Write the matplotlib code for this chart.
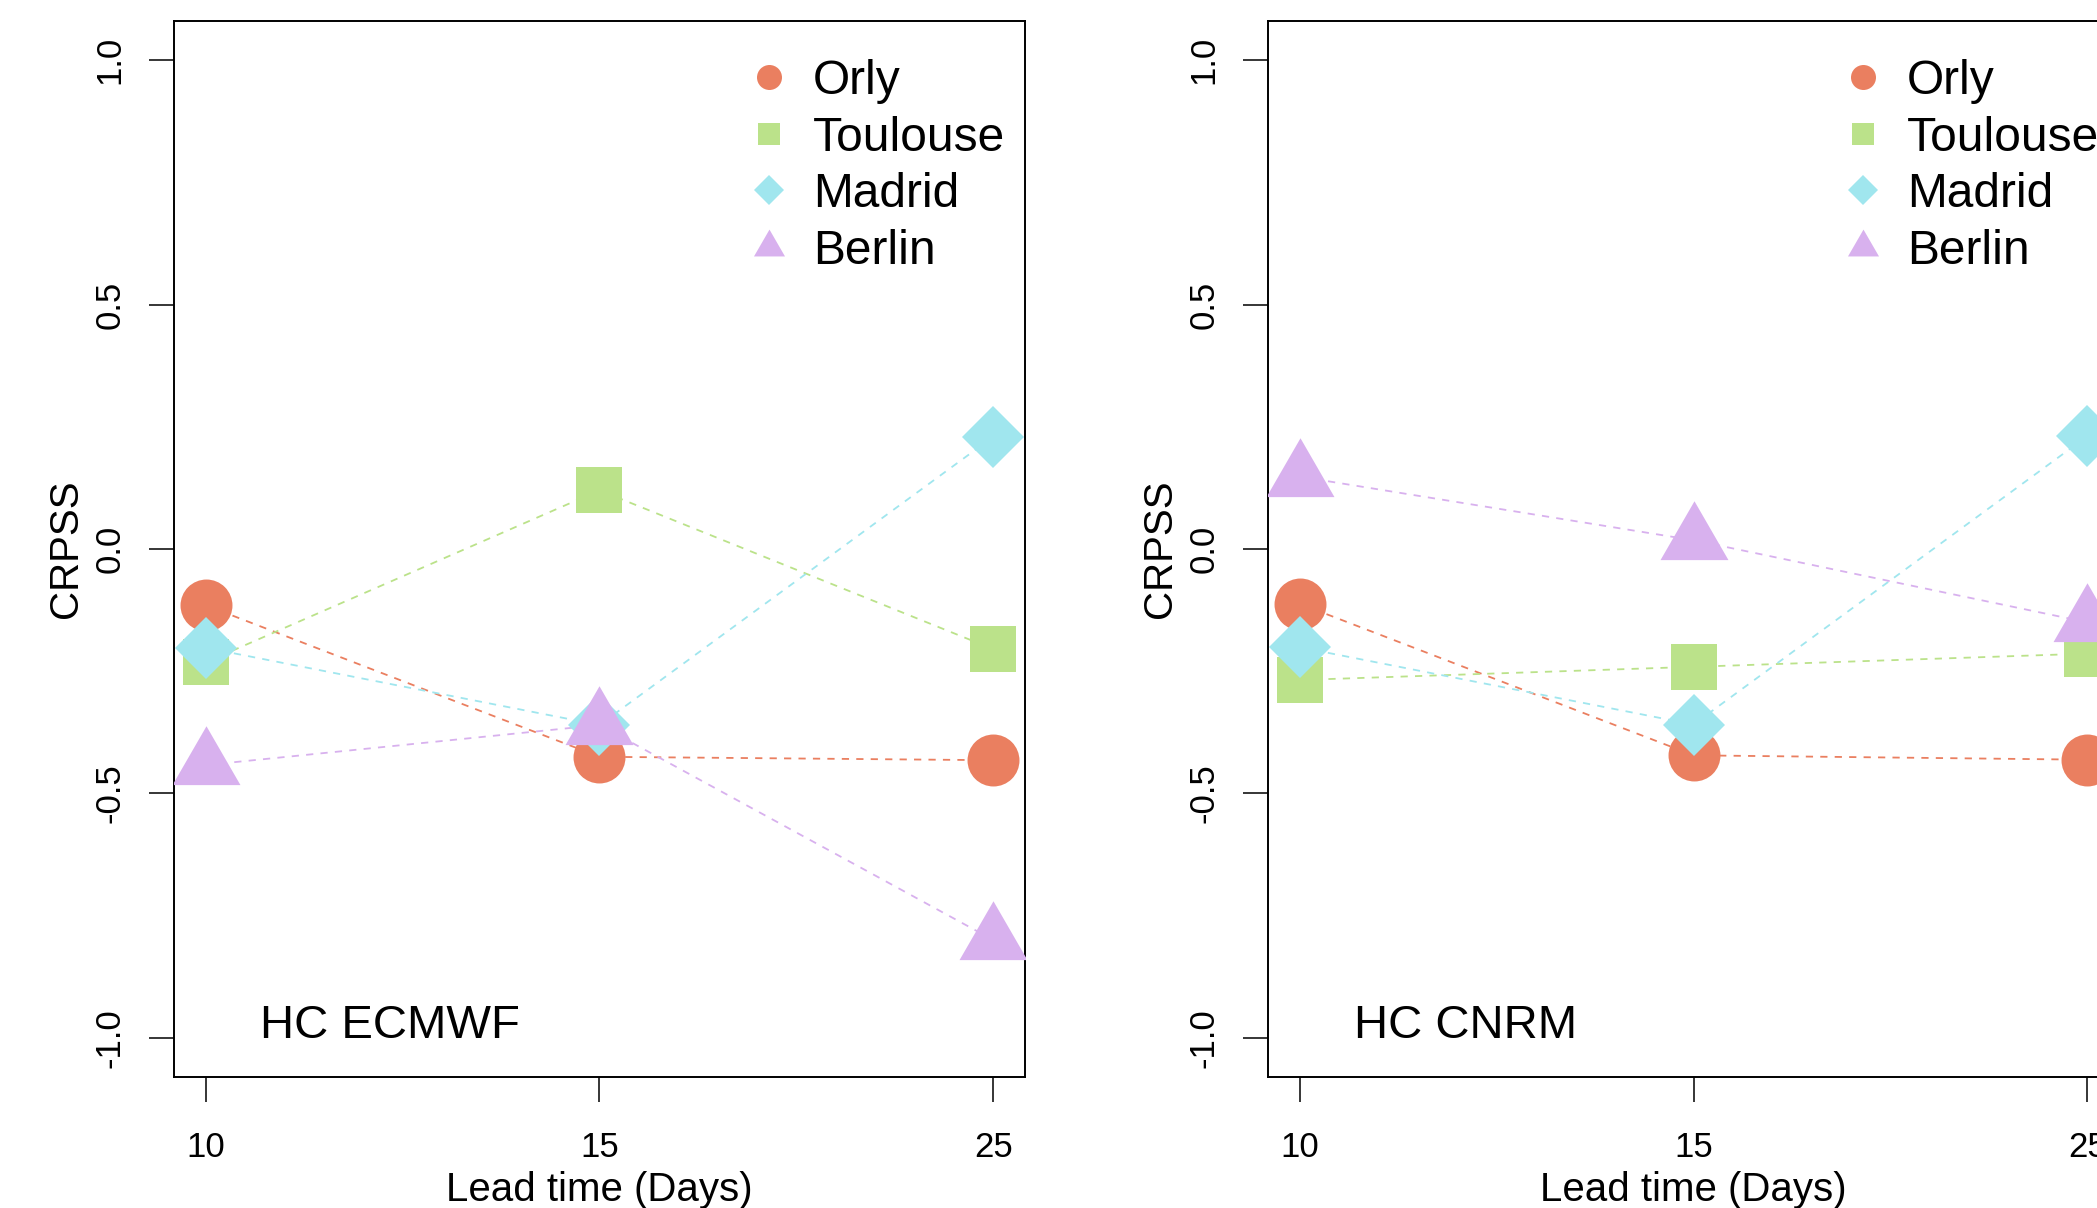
import numpy as np
import matplotlib
matplotlib.use("Agg")
import matplotlib.pyplot as plt
from matplotlib.path import Path
from matplotlib.lines import Line2D

plt.rcParams["font.family"] = ["Liberation Sans", "DejaVu Sans"]

# ===========================
# Datos (CRPSS por estación)
# ===========================
lead_times = ["10", "15", "25"]
stations = ["Orly", "Toulouse", "Madrid", "Berlin"]

ecmwf_orly = [-0.115, -0.425, -0.432]
ecmwf_toulouse = [-0.232, 0.120, -0.205]
ecmwf_madrid = [-0.202, -0.360, 0.230]
ecmwf_berlin = [-0.442, -0.360, -0.800]

cnrm_orly = [-0.112, -0.422, -0.431]
cnrm_toulouse = [-0.268, -0.241, -0.214]
cnrm_madrid = [-0.201, -0.359, 0.231]
cnrm_berlin = [0.148, 0.018, -0.150]

panel_titles = ["HC ECMWF", "HC CNRM"]

colors = ["#EA7F60", "#BBE28A", "#A0E6EE", "#D8B1EE"]

# triángulo equilátero centrado como en R (pch 17)
tri = Path([(0, 1), (-0.866, -0.5), (0.866, -0.5), (0, 1)],
           [Path.MOVETO, Path.LINETO, Path.LINETO, Path.CLOSEPOLY])
markers = ["o", "s", "D", tri]
msizes = [37.4, 32.6, 31.6, 56.5]
leg_sizes = [18, 15.6, 14.9, 25.8]

fig = plt.figure(figsize=(20.97, 12.08), dpi=100)
W, H = 2097, 1208
axes = [
    fig.add_axes([174 / W, 131 / H, 851 / W, 1056 / H]),
    fig.add_axes([1268 / W, 131 / H, 851 / W, 1056 / H]),
]

panels = [
    [ecmwf_orly, ecmwf_toulouse, ecmwf_madrid, ecmwf_berlin],
    [cnrm_orly, cnrm_toulouse, cnrm_madrid, cnrm_berlin],
]

x = np.arange(1, len(lead_times) + 1)

for ax, series, title in zip(axes, panels, panel_titles):
    for vals, c in zip(series, colors):
        ax.plot(x, vals, linestyle=(0, (4, 4)), color=c, lw=1.3, zorder=2)
    for vals, c, m, ms in zip(series, colors, markers, msizes):
        ax.plot(x, vals, linestyle="none", marker=m, ms=ms, color=c,
                markeredgewidth=0, zorder=3)

    ax.set_xlim(0.92, 3.08)
    ax.set_ylim(-1.08, 1.08)
    ax.set_xticks(x)
    ax.set_xticklabels(lead_times)
    ax.set_yticks([-1.0, -0.5, 0.0, 0.5, 1.0])
    ax.set_yticklabels(["-1.0", "-0.5", "0.0", "0.5", "1.0"],
                       rotation=90, va="center")
    ax.tick_params(axis="both", direction="out", length=18, width=1.1,
                   labelsize=25, color="black")
    ax.tick_params(axis="x", pad=21)
    ax.tick_params(axis="y", pad=16)
    for sp in ax.spines.values():
        sp.set_linewidth(1.4)

    ax.set_xlabel("Lead time (Days)", fontsize=29, va="baseline")
    ax.xaxis.set_label_coords(0.5, -0.1174)
    ax.set_ylabel("CRPSS", fontsize=29, va="baseline")
    ax.yaxis.set_label_coords(-0.114, 0.5)

    ax.text(0.101, 0.037, title, transform=ax.transAxes, fontsize=34,
            va="baseline", ha="left")

    handles = [Line2D([], [], linestyle="none", marker=m, ms=s, color=c,
                      markeredgewidth=0)
               for m, s, c in zip(markers, leg_sizes, colors)]
    ax.legend(handles, stations, loc="upper left",
              bbox_to_anchor=(0.671, 0.964), frameon=False, fontsize=34.5,
              handlelength=1.0, handletextpad=0.42, borderpad=0,
              borderaxespad=0, labelspacing=0.24)

fig.savefig("out.png", dpi=100)
